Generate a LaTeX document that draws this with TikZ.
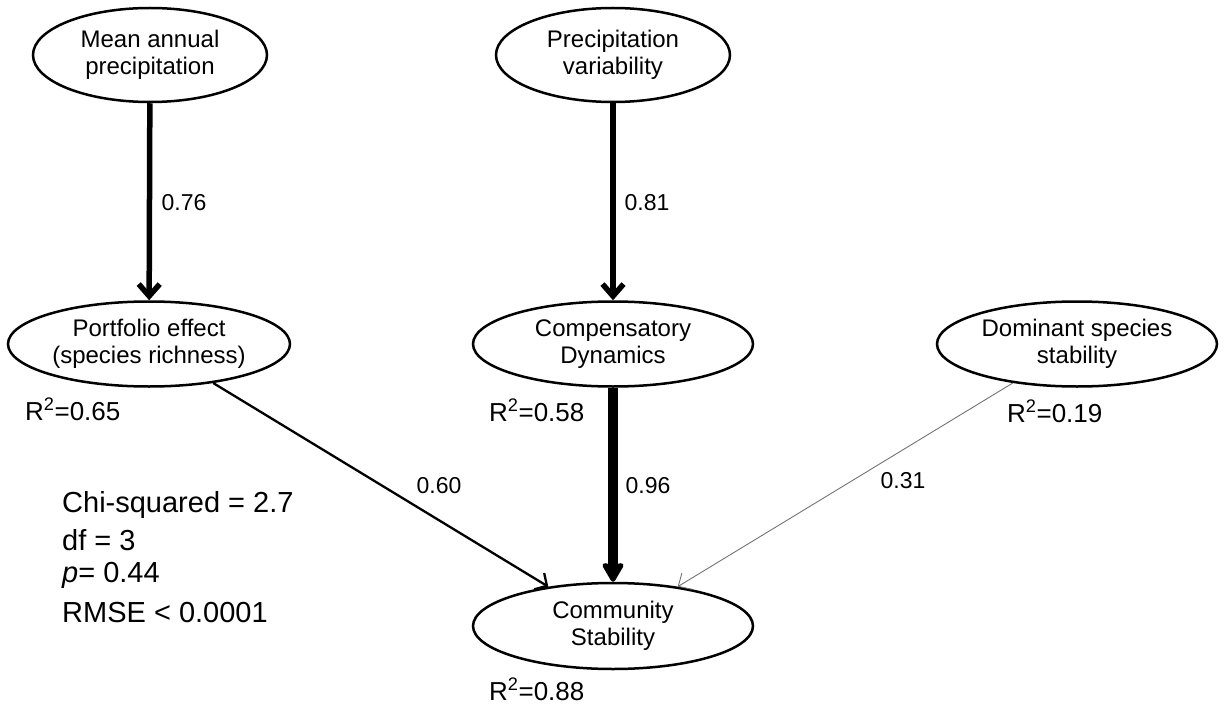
\documentclass[tikz,border=0pt]{standalone}
\usepackage{fontspec}
\setmainfont{Liberation Sans}
\usetikzlibrary{shapes.geometric,arrows.meta}
\begin{document}
\begin{tikzpicture}[x=1pt,y=-1pt,
  var/.style={draw,ellipse,line width=2.5pt,inner sep=0pt,align=center,
    font=\fontsize{24}{27}\selectfont},
  elab/.style={font=\fontsize{23}{27}\selectfont,inner sep=0pt},
  rlab/.style={font=\fontsize{26}{30}\selectfont,inner sep=0pt,anchor=base west},
  stat/.style={font=\fontsize{29}{34}\selectfont,inner sep=0pt,anchor=base west},
  strongarr/.style={line width=5.5pt,-{Straight Barb[length=12pt,width=21pt]}},
  heavyarr/.style={line width=9.5pt,-{Stealth[length=22pt,width=25pt,inset=3pt,round]}},
  midarr/.style={line width=2.3pt,-{Straight Barb[length=9pt,width=19pt]}},
  weakarr/.style={line width=0.9pt,black!55,-{Straight Barb[length=10pt,width=19pt]}},
]
\useasboundingbox (0,0) rectangle (1224,706);

% variables
\node[var,minimum width=234pt,minimum height=94pt] (map) at (150,55) {Mean annual\\precipitation};
\node[var,minimum width=234pt,minimum height=94pt] (pv) at (613,55) {Precipitation\\variability};
\node[var,minimum width=282pt,minimum height=85pt] (pe) at (149,344) {Portfolio effect\\(species richness)};
\node[var,minimum width=280pt,minimum height=85pt] (cd) at (613,344) {Compensatory\\Dynamics};
\node[var,minimum width=280pt,minimum height=85pt] (ds) at (1077,344) {Dominant species\\stability};
\node[var,minimum width=280pt,minimum height=86pt] (cs) at (613,626) {Community\\Stability};

% paths
\draw[strongarr] (map) -- (pe);
\draw[strongarr] (pv) -- (cd);
\draw[midarr] (pe) -- (cs);
\draw[heavyarr] (cd) -- (cs);
\draw[weakarr] (ds) -- (cs);

% path coefficients
\node[elab] (l76) at (184,203) {0.76};
\node[elab] (l81) at (647,203) {0.81};
\node[elab] (l60) at (439,486) {0.60};
\node[elab] (l96) at (648,486) {0.96};
\node[elab] (l31) at (903,481) {0.31};

% R-squared
\node[rlab] (r65) at (25,420) {R\textsuperscript{2}=0.65};
\node[rlab] (r58) at (489,421) {R\textsuperscript{2}=0.58};
\node[rlab] (r19) at (1007,422) {R\textsuperscript{2}=0.19};
\node[rlab] (r88) at (489,700) {R\textsuperscript{2}=0.88};

% fit statistics
\node[stat] (chi) at (62,512) {Chi-squared = 2.7};
\node[stat] (df) at (62,550) {df = 3};
\node[stat] (pval) at (62,582) {\textit{p}= 0.44};
\node[stat] (rmse) at (62,622) {RMSE < 0.0001};
\end{tikzpicture}
\end{document}
